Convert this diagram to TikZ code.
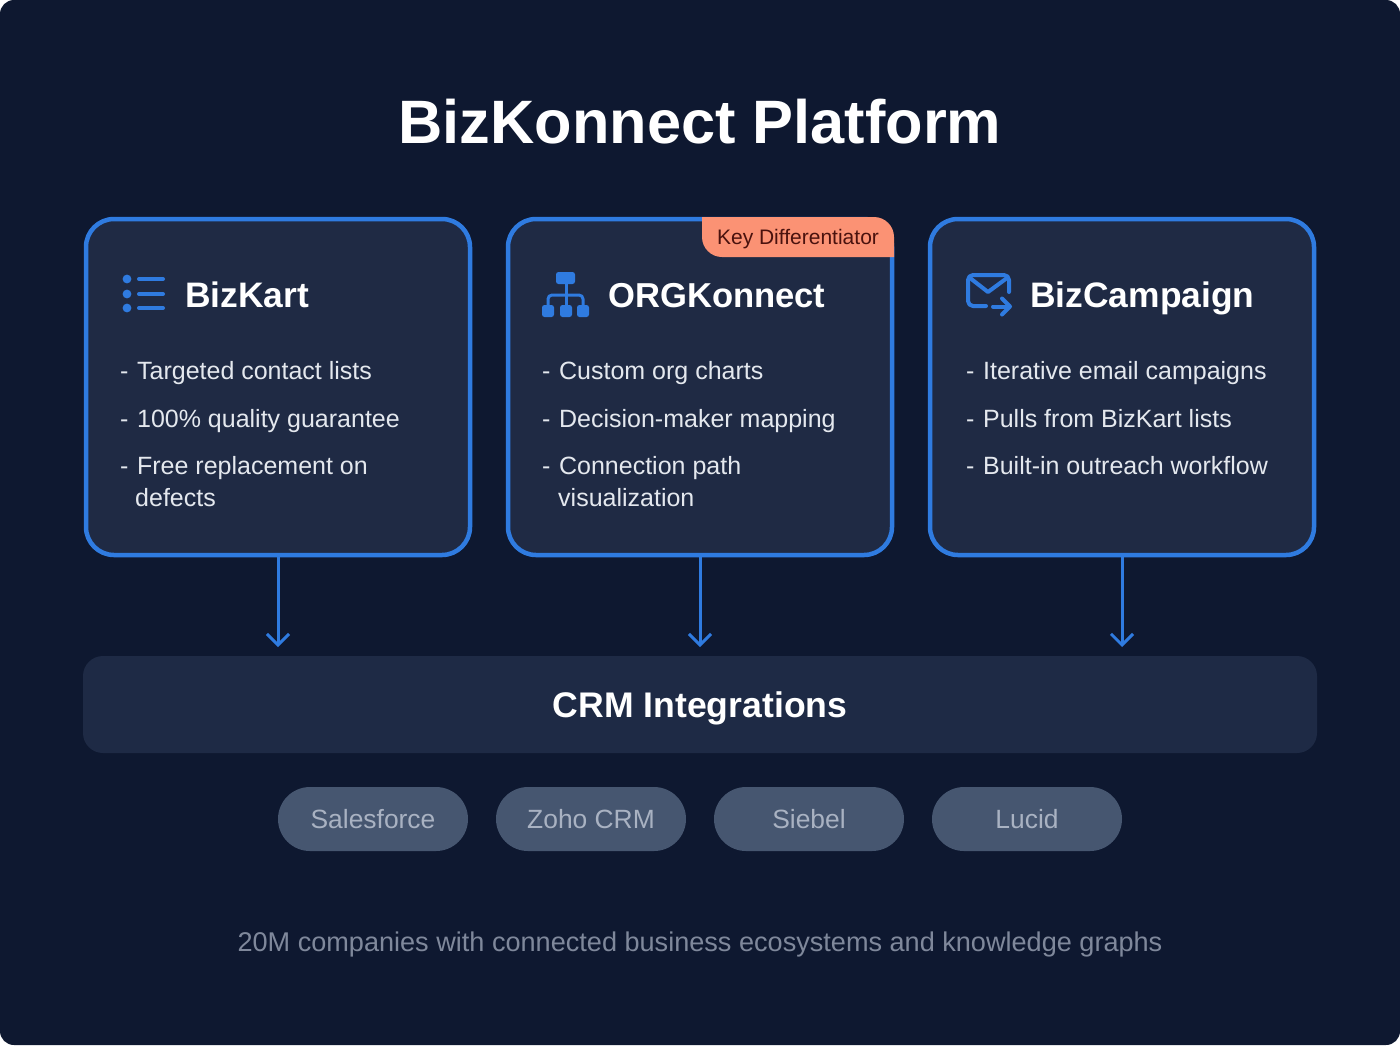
\documentclass[tikz,border=0pt]{standalone}
\usepackage{fontspec}
\setmainfont{Liberation Sans}
\usetikzlibrary{arrows.meta}
\definecolor{pagebg}{HTML}{0E1830}
\definecolor{cardbg}{HTML}{1F2A44}
\definecolor{barbg}{HTML}{1E2A45}
\definecolor{pillbg}{HTML}{465670}
\definecolor{pilltext}{HTML}{A9B2C2}
\definecolor{foottext}{HTML}{7F889B}
\definecolor{linkblue}{HTML}{2F7BE0}
\definecolor{tagbg}{HTML}{FB9274}
\definecolor{tagtext}{HTML}{4A120E}
\definecolor{bodytext}{HTML}{E4E8EE}
\newcommand{\dashitem}{-\hspace{8.6pt}}
\tikzset{
	card/.style={draw=linkblue, line width=4.5pt, fill=cardbg, rounded corners=28pt, minimum width=384pt, minimum height=336pt, inner sep=0pt, outer sep=0pt},
	pill/.style={fill=pillbg, rounded corners=32pt, minimum width=190pt, minimum height=64pt, inner sep=0pt, text=pilltext, font=\fontsize{26.4}{30}\selectfont},
	head/.style={anchor=base west, inner sep=0pt, text=white, font=\fontsize{35.4}{40}\selectfont\bfseries},
	body/.style={anchor=base west, inner sep=0pt, text=bodytext, font=\fontsize{25}{30}\selectfont},
	link/.style={linkblue, line width=3pt, -{Straight Barb[length=11pt,width=22pt,line width=3pt]}},
	icon/.style={linkblue, line width=4pt, line cap=round, line join=round}
}
\begin{document}
\begin{tikzpicture}[x=1pt,y=-1pt]
	\useasboundingbox (0,0) rectangle (1400,1045);
	\fill[pagebg, rounded corners=14pt] (0,0) rectangle (1400,1045);

	\node[anchor=base, inner sep=0pt, text=white, font=\fontsize{61.3}{70}\selectfont\bfseries] (title) at (700,143) {BizKonnect Platform};

	% the three products
	\node[card] (bizkart) at (278,387) {};
	\node[card] (orgkonnect) at (700,387) {};
	\node[card] (bizcampaign) at (1122,387) {};

	\fill[tagbg] (702,217) -- (874,217) arc[start angle=-90, end angle=0, radius=20] -- (894,257) -- (722,257) arc[start angle=90, end angle=180, radius=20] -- cycle;
	\node[anchor=base, inner sep=0pt, text=tagtext, font=\fontsize{21}{24}\selectfont] (tag) at (798,244) {Key Differentiator};

	% list icon
	\foreach \y in {279,294,308} {
		\fill[linkblue] (127,\y) circle [radius=4.4];
		\draw[icon] (139,\y) -- (163,\y);
	}
	% org chart icon
	\fill[linkblue, rounded corners=2.5pt] (556,272) rectangle (575,284);
	\draw[icon, line width=3pt, line cap=butt] (566,284) -- (566,305);
	\draw[icon, line width=3pt, line cap=butt, rounded corners=4pt] (548,305) -- (548,295) -- (583,295) -- (583,305);
	\foreach \x in {542,560,577}
		\fill[linkblue, rounded corners=2.5pt] (\x,305) rectangle (\x+12,317);
	% envelope icon
	\draw[icon, rounded corners=5pt] (986,306) -- (968,306) -- (968,275) -- (1009,275) -- (1009,292);
	\draw[icon] (970,278) -- (988,292) -- (1007,278);
	\draw[icon] (993,306.5) -- (1009,306.5);
	\draw[icon] (1002,298.5) -- (1010,306.5) -- (1002,314.5);

	\node[head] (bizkarthead) at (185,307) {BizKart};
	\node[head, font=\fontsize{34.6}{40}\selectfont\bfseries] (orghead) at (608,307) {ORGKonnect};
	\node[head] (camphead) at (1030,307) {BizCampaign};

	\node[body] (k1) at (120,379) {\dashitem Targeted contact lists};
	\node[body] (k2) at (120,427) {\dashitem 100\% quality guarantee};
	\node[body] (k3) at (120,474.5) {\dashitem Free replacement on};
	\node[body] (k4) at (135,506) {defects};

	\node[body] (o1) at (542,379) {\dashitem Custom org charts};
	\node[body] (o2) at (542,427) {\dashitem Decision-maker mapping};
	\node[body] (o3) at (542,474.5) {\dashitem Connection path};
	\node[body] (o4) at (558,506) {visualization};

	\node[body] (c1) at (966,379) {\dashitem Iterative email campaigns};
	\node[body] (c2) at (966,427) {\dashitem Pulls from BizKart lists};
	\node[body] (c3) at (966,474.5) {\dashitem Built-in outreach workflow};

	% integrations
	\node[fill=barbg, rounded corners=20pt, minimum width=1234pt, minimum height=97pt, inner sep=0pt, text height=26pt, text depth=0pt, text=white, font=\fontsize{35.6}{40}\selectfont\bfseries] (crm) at (700,704.5) {CRM Integrations};

	\coordinate (bizkartend) at (278,647);
	\coordinate (orgend) at (700,647);
	\coordinate (campend) at (1122,647);
	\draw[link] (bizkart.south) -- (bizkartend);
	\draw[link] (orgkonnect.south) -- (orgend);
	\draw[link] (bizcampaign.south) -- (campend);

	\node[pill] (salesforce) at (373,819) {Salesforce};
	\node[pill] (zoho) at (591,819) {Zoho CRM};
	\node[pill] (siebel) at (809,819) {Siebel};
	\node[pill] (lucid) at (1027,819) {Lucid};

	\node[anchor=base, inner sep=0pt, text=foottext, font=\fontsize{27.1}{30}\selectfont] (foot) at (700,951) {20M companies with connected business ecosystems and knowledge graphs};
\end{tikzpicture}
\end{document}
